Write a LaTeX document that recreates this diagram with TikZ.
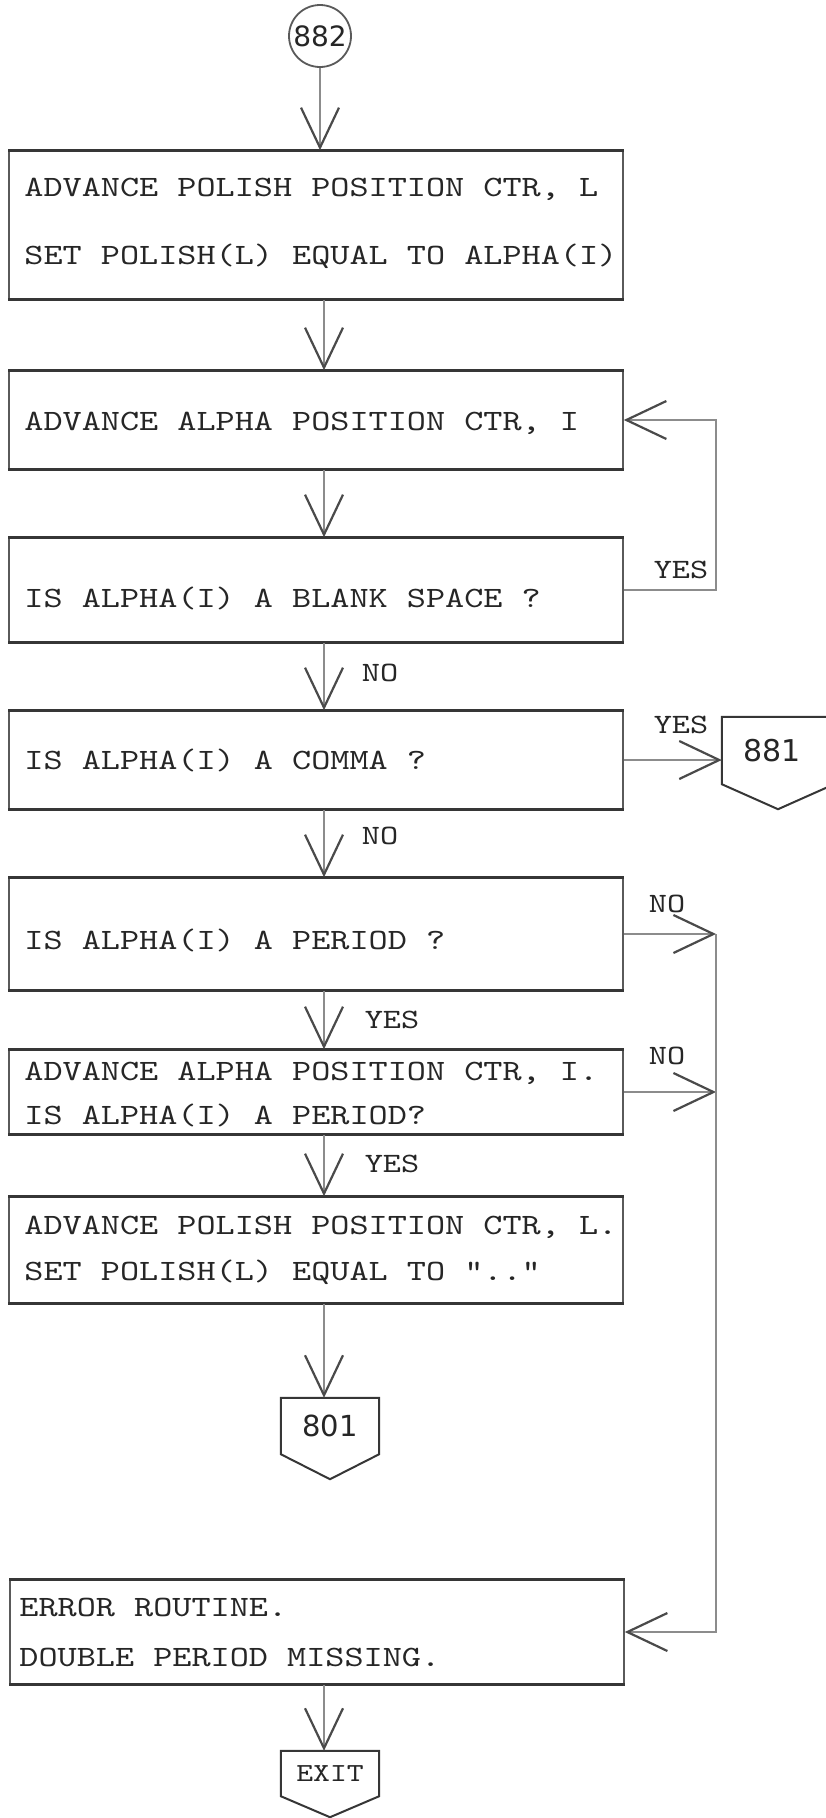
\documentclass[tikz,border=0pt]{standalone}
\usepackage{fontspec}
\setmainfont{Liberation Serif}
\newfontfamily\tw[FakeStretch=1.235]{lmmono10-regular.otf}
\newfontfamily\hv{DejaVu Sans}
\usetikzlibrary{arrows.meta,calc}
\definecolor{boxc}{HTML}{363636}
\definecolor{sidec}{HTML}{5A5A5A}
\definecolor{linec}{HTML}{8C8C8C}
\definecolor{tipc}{HTML}{4A4A4A}
\definecolor{txtc}{HTML}{262626}
\begin{document}
\begin{tikzpicture}[x=1pt,y=-1pt,
  box/.style={draw=sidec, line width=1.6pt, minimum width=614pt, inner sep=0pt},
  edge/.style={draw=boxc, line width=3pt},
  txt/.style={font=\tw\fontsize{29.5}{44}\selectfont, text=txtc, align=left, inner sep=0pt, anchor=west},
  lbl/.style={font=\tw\fontsize{28}{30}\selectfont, text=txtc, inner sep=0pt},
  conn/.style={draw=linec, line width=2pt, -{Straight Barb[length=40pt,width=38pt,line width=2.2pt,color=tipc]}},
  offp/.style={draw=boxc, line width=2pt, line join=miter}
]
\useasboundingbox (0,0) rectangle (826,1818);
\coordinate (col) at (324,0);
\coordinate (vr) at (716,0);

% start connector
\node[draw=sidec, line width=1.8pt, circle, minimum size=62pt, inner sep=0pt,
      font=\hv\fontsize{28}{28}\selectfont, text=txtc] (c882) at (320,36) {882};

% boxes
\node[box, minimum height=148pt] (b1) at (316,225) {};
\node[box, minimum height=98pt]  (b2) at (316,420) {};
\node[box, minimum height=104pt] (b3) at (316,590) {};
\node[box, minimum height=98pt]  (b4) at (316,760) {};
\node[box, minimum height=112pt] (b5) at (316,934) {};
\node[box, minimum height=84pt]  (b6) at (316,1092) {};
\node[box, minimum height=106pt] (b7) at (316,1250) {};
\node[box, minimum height=104pt] (b8) at (317,1632) {};
\foreach \b in {b1,b2,b3,b4,b5,b6,b7,b8}
  \draw[edge] (\b.north west) -- (\b.north east) (\b.south west) -- (\b.south east);

% texts
\node[txt] (t1) at ([xshift=16pt,yshift=2pt]b1.west) {ADVANCE POLISH POSITION CTR, L\\[24pt]SET POLISH(L) EQUAL TO ALPHA(I)};
\node[txt] (t2) at ([xshift=16pt,yshift=-3pt]b2.west) {ADVANCE ALPHA POSITION CTR, I};
\node[txt] (t3) at ([xshift=16pt,yshift=-8pt]b3.west) {IS ALPHA(I) A BLANK SPACE ?};
\node[txt] (t4) at ([xshift=16pt]b4.west) {IS ALPHA(I) A COMMA ?};
\node[txt] (t5) at ([xshift=16pt,yshift=-6pt]b5.west) {IS ALPHA(I) A PERIOD ?};
\node[txt] (t6) at ([xshift=16pt,yshift=-3pt]b6.west) {ADVANCE ALPHA POSITION CTR, I.\\IS ALPHA(I) A PERIOD?};
\node[txt] (t7) at ([xshift=16pt]b7.west) {ADVANCE POLISH POSITION CTR, L.\\[2pt]SET POLISH(L) EQUAL TO ".."};
\node[txt] (t8) at ([xshift=10pt]b8.west) {ERROR ROUTINE.\\[6pt]DOUBLE PERIOD MISSING.};

% off-page connectors
\node[minimum width=112pt, minimum height=67pt, inner sep=0pt,
      font=\hv\fontsize{30}{30}\selectfont, text=txtc] (c881) at (778,750.5) {\hspace*{-12pt}881};
\draw[offp] (c881.south west) -- (c881.north west) -- (c881.north east) -- (c881.south east)
   -- ($(c881.south)+(0,25)$) -- cycle;
\node[minimum width=98pt, minimum height=56pt, inner sep=0pt,
      font=\hv\fontsize{29}{29}\selectfont, text=txtc] (c801) at (330,1426) {801};
\draw[offp] (c801.south west) -- (c801.north west) -- (c801.north east) -- (c801.south east)
   -- ($(c801.south)+(0,25)$) -- cycle;
\node[minimum width=98pt, minimum height=45pt, inner sep=0pt,
      font=\tw\fontsize{26}{26}\selectfont, text=txtc] (cexit) at (330,1773.5) {EXIT};
\draw[offp] (cexit.south west) -- (cexit.north west) -- (cexit.north east) -- (cexit.south east)
   -- ($(cexit.south)+(0,21)$) -- cycle;

% main column connectors
\draw[conn] (c882.south) -- (c882.south |- b1.north);
\draw[conn] (b1.south -| col) -- (b2.north -| col);
\draw[conn] (b2.south -| col) -- (b3.north -| col);
\draw[conn] (b3.south -| col) -- (b4.north -| col);
\draw[conn] (b4.south -| col) -- (b5.north -| col);
\draw[conn] (b5.south -| col) -- (b6.north -| col);
\draw[conn] (b6.south -| col) -- (b7.north -| col);
\draw[conn] (b7.south -| col) -- (c801.north -| col);
\draw[conn] (b8.south -| col) -- (cexit.north -| col);

% loop back
\draw[conn] (b3.east) -- (b3.east -| vr) -- (b2.east -| vr) -- (b2.east);
% to 881
\draw[conn] (b4.east) -- (c881.west |- b4.east);
% NO branches
\draw[conn] (b5.east) -- (b5.east -| vr);
\draw[conn] (b6.east) -- (b6.east -| vr);
\draw[conn] (b5.east -| vr) -- (b8.east -| vr) -- (b8.east);

% labels
\node[lbl] (l1) at (681,570) {YES};
\node[lbl] (l2) at (380,673) {NO};
\node[lbl] (l3) at (681,725) {YES};
\node[lbl] (l4) at (380,836) {NO};
\node[lbl] (l5) at (667,904) {NO};
\node[lbl] (l6) at (392,1020) {YES};
\node[lbl] (l7) at (667,1056) {NO};
\node[lbl] (l8) at (392,1164) {YES};
\end{tikzpicture}
\end{document}
